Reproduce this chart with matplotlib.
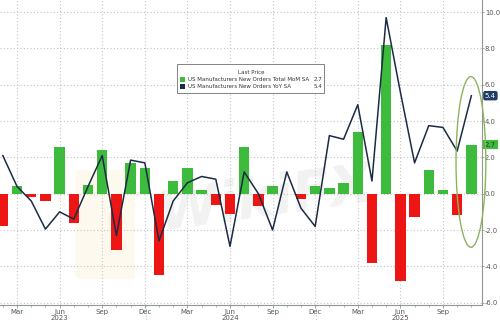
import matplotlib
matplotlib.use("Agg")
import matplotlib.pyplot as plt
import matplotlib.transforms as mtransforms
from matplotlib.patches import Ellipse, Rectangle, FancyBboxPatch
from matplotlib.ticker import FixedLocator, MultipleLocator, FormatStrFormatter

# monthly series, Feb 2023 .. Nov 2025
months = ["Feb", "Mar", "Apr", "May", "Jun", "Jul", "Aug", "Sep", "Oct", "Nov", "Dec"] + \
    ["Jan", "Feb", "Mar", "Apr", "May", "Jun", "Jul", "Aug", "Sep", "Oct", "Nov", "Dec"] + \
    ["Jan", "Feb", "Mar", "Apr", "May", "Jun", "Jul", "Aug", "Sep", "Oct", "Nov"]
mom = [-1.8, 0.4, -0.2, -0.4, 2.6, -1.6, 0.5, 2.4, -3.1, 1.7, 1.4,
       -4.5, 0.7, 1.4, 0.2, -0.6, -1.1, 2.6, -0.7, 0.4, 0.0, -0.3, 0.4,
       0.3, 0.6, 3.4, -3.8, 8.2, -4.8, -1.3, 1.3, 0.2, -1.2, 2.7]
yoy = [2.1, 0.4, -0.4, -1.95, -1.0, -1.4, 0.4, 2.1, -2.3, 1.85, 1.7,
       -2.6, -0.4, 0.6, 0.95, 0.8, -2.9, 1.2, 0.0, -2.0, 1.2, -0.8, -1.8,
       3.2, 3.0, 4.9, 0.7, 9.7, 5.6, 1.7, 3.75, 3.65, 2.35, 5.4]
years = ["2023", "2024", "2025"]
mom_label = "US Manufacturers New Orders Total MoM SA"
yoy_label = "US Manufacturers New Orders YoY SA"

GREEN = "#3dbb3d"
RED = "#ee1515"
NAVY = "#1b2b45"
GRID = "#c4c4c4"
AXIS = "#8f9a8f"
TXT = "#555555"

x = list(range(len(mom)))
quarter_idx = [i for i, m in enumerate(months) if m in ("Mar", "Jun", "Sep", "Dec")]
jun_idx = [i for i, m in enumerate(months) if m == "Jun"]
dec_idx = [i for i, m in enumerate(months) if m == "Dec"]

fig = plt.figure(figsize=(5.0, 3.22), dpi=100)
ax = fig.add_axes([0.0, 17 / 322, 482 / 500, 305 / 322])

colors = [GREEN if v >= 0 else RED for v in mom]
ax.bar(x, mom, width=0.74, color=colors, zorder=2)
ax.plot(x, yoy, color=NAVY, lw=1.1, zorder=3)

ax.set_xlim(-0.2, 33.75)
ax.set_ylim(-6.13, 10.67)

# grid
ax.yaxis.set_major_locator(MultipleLocator(2))
ax.xaxis.set_major_locator(FixedLocator(quarter_idx))
ax.xaxis.set_minor_locator(FixedLocator(x))
ax.grid(True, which="major", color=GRID, ls=(0, (1, 2)), lw=0.8, zorder=0)

# axes styling
for side in ("top", "left"):
    ax.spines[side].set_visible(False)
for side in ("right", "bottom"):
    ax.spines[side].set_color(AXIS)
    ax.spines[side].set_linewidth(0.8)
ax.yaxis.tick_right()
ax.yaxis.set_major_formatter(FormatStrFormatter("%.1f"))
ax.tick_params(axis="y", which="both", direction="out", length=1.5, width=0.6,
               colors=AXIS, labelcolor=TXT, labelsize=4.9, pad=0.6)
ax.tick_params(axis="x", which="major", direction="out", length=2.5, width=0.6,
               colors=AXIS, labelcolor=TXT, labelsize=5.0, pad=0.5)
ax.tick_params(axis="x", which="minor", direction="out", length=1.5, width=0.5, colors=AXIS)
ax.set_xticklabels([months[i] for i in quarter_idx])

# year labels and year separators
trans = mtransforms.blended_transform_factory(ax.transData, ax.transAxes)
for yr, i in zip(years, jun_idx):
    ax.text(i, -0.041, yr, transform=trans, ha="center", va="center", fontsize=5.0, color=TXT)
for i in dec_idx:
    ax.plot([i + 0.05, i + 0.05], [0, -0.06], transform=trans, color=GRID, lw=0.8,
            ls=(0, (1, 2)), clip_on=False)

# last value tags on the right axis
tag_trans = mtransforms.blended_transform_factory(ax.transAxes, ax.transData)
ax.text(1.006, yoy[-1], f"{yoy[-1]:.1f}", transform=tag_trans,
        ha="left", va="center", fontsize=5.0, color="white",
        bbox=dict(boxstyle="round,pad=0.25,rounding_size=0.3", fc="#1f3d63", ec="none"))
ax.text(1.006, mom[-1], f"{mom[-1]:.1f}", transform=tag_trans,
        ha="left", va="center", fontsize=5.0, color="#1a3a1a",
        bbox=dict(boxstyle="square,pad=0.25", fc=GREEN, ec="none"))

# highlight around the latest readings
ax.add_patch(Ellipse((32.97, 1.75), 2.1, 9.4, fill=False, ec="#8db35e", lw=1.0,
                     zorder=4, clip_on=False))

# watermark
ax.add_patch(FancyBboxPatch((5.4, -4.4), 3.6, 5.4, boxstyle="round,pad=0.3",
                            fc="#f3d98a", ec="none", alpha=0.14, zorder=1))
ax.text(18.5, -0.3, "WikiFX", fontsize=40, fontweight="bold", fontstyle="italic",
        color="#888888", alpha=0.11, ha="center", va="center", rotation=8, zorder=1)

# legend box
lg_left, lg_right = 176.7 / 482, 324 / 482
lg_top, lg_bot = 1 - 64.3 / 305, 1 - 93.3 / 305
ax.add_patch(Rectangle((lg_left, lg_bot), lg_right - lg_left, lg_top - lg_bot,
                       transform=ax.transAxes, fc="white", ec="#6f6f6f", lw=0.6, zorder=5))
ax.text(251 / 482, 1 - 72.3 / 305, "Last Price", transform=ax.transAxes, ha="center",
        va="center", fontsize=4.0, color="#333333", zorder=6)
for ypx, col, lab, val in [(79.3, GREEN, mom_label, mom[-1]), (86.7, NAVY, yoy_label, yoy[-1])]:
    yy = 1 - ypx / 305
    ax.add_patch(Rectangle((180 / 482, yy - 2.6 / 305), 5 / 482, 5.2 / 305,
                           transform=ax.transAxes, fc=col, ec="none", zorder=6))
    ax.text(187.5 / 482, yy, lab, transform=ax.transAxes, ha="left", va="center",
            fontsize=4.0, color="#333333", zorder=6)
    ax.text(322 / 482, yy, f"{val:.1f}", transform=ax.transAxes, ha="right", va="center",
            fontsize=4.0, color="#333333", zorder=6)

fig.savefig("out.png", dpi=100)
